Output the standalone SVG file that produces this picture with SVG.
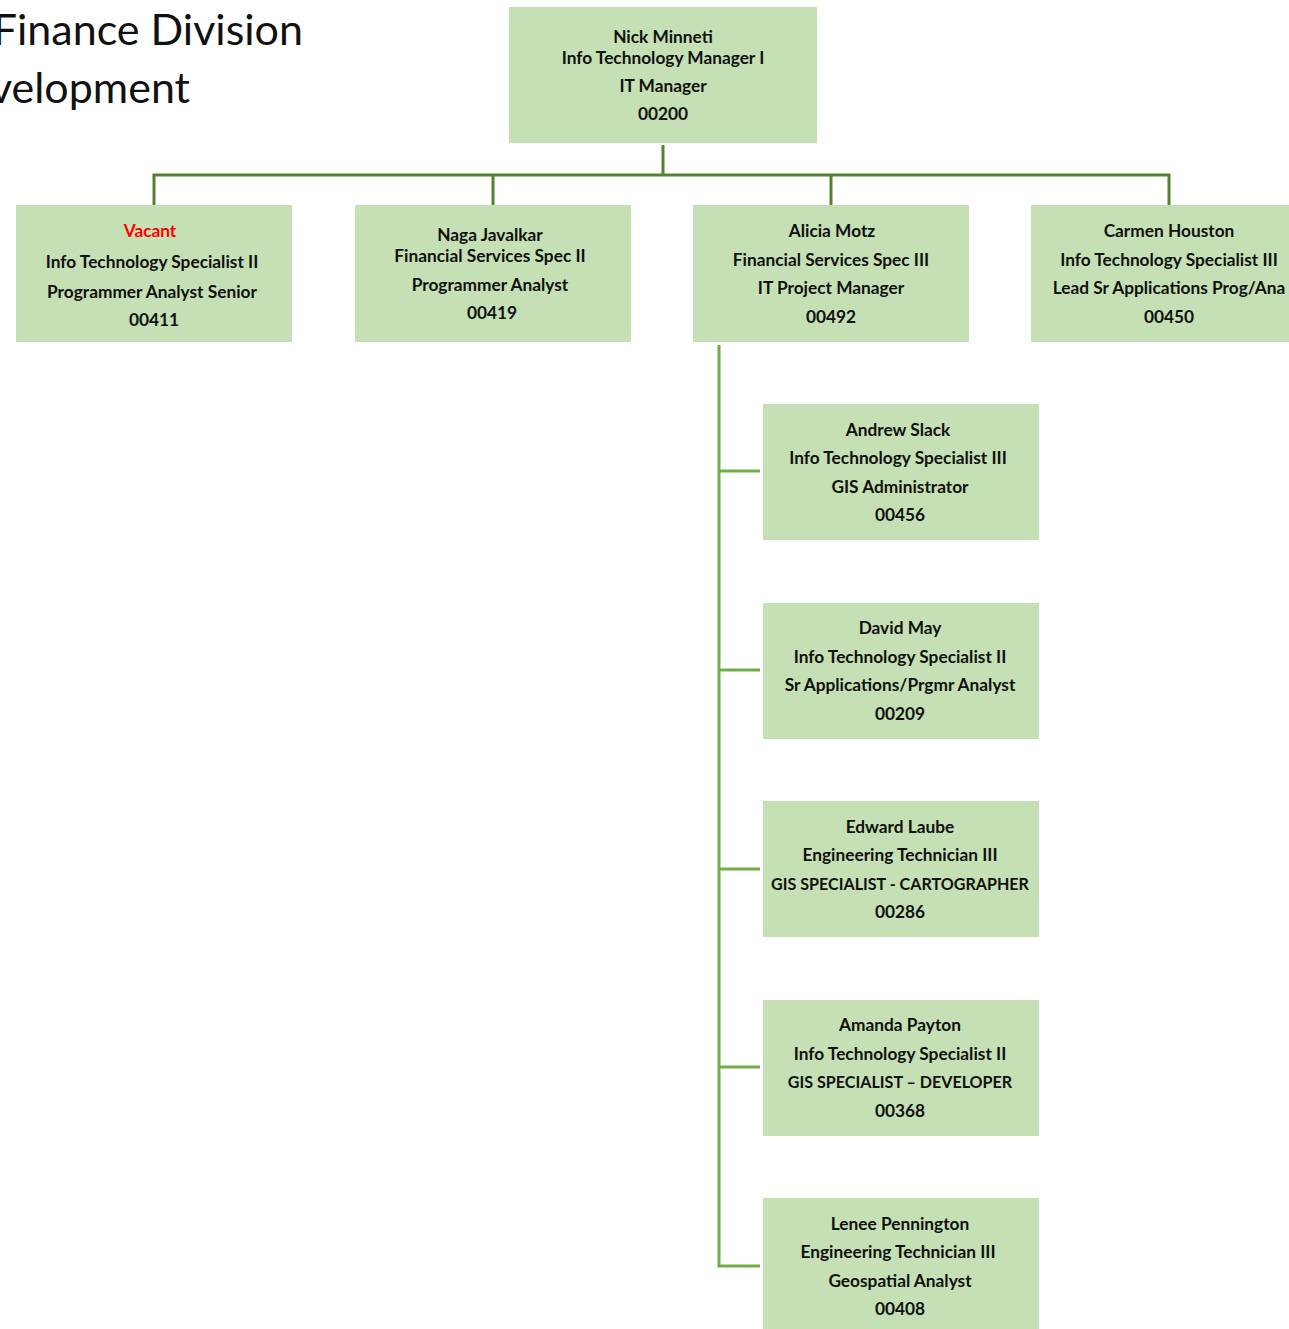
<svg xmlns="http://www.w3.org/2000/svg" width="1289" height="1329" viewBox="0 0 1289 1329">
<style>
.box{fill:#c5e0b4;}
.t{font-family:Lato,"Liberation Sans",sans-serif;font-weight:bold;font-size:17.3px;fill:#111;text-anchor:middle;dominant-baseline:central;}
.caps{font-size:16.1px;}
.red{fill:#ff0000;}
.title{font-family:Lato,"Liberation Sans",sans-serif;font-size:43px;fill:#111;text-anchor:end;}
.c1{stroke:#548235;stroke-width:3;fill:none;}
.c2{stroke:#70ad47;stroke-width:3;fill:none;}
</style>
<rect width="1289" height="1329" fill="#fff"/>
<text class="title" x="303" y="45">Finance Division</text>
<text class="title" x="190" y="103">velopment</text>
<g id="connectors">
<path class="c1" d="M663 145V175M154 205V175H1169V205M493 175V205M831 175V205"/>
<path class="c2" d="M719 345V1266H760M719 471H760M719 670H760M719 869H760M719 1067H760"/>
</g>
<g id="n00200"><rect class="box" x="509" y="7" width="308" height="136"/>
<text class="t" x="663" y="36">Nick Minneti</text><text class="t" x="663" y="57">Info Technology Manager I</text><text class="t" x="663" y="85">IT Manager</text><text class="t" x="663" y="113">00200</text></g>
<g id="n00411"><rect class="box" x="16" y="205" width="276" height="137"/>
<text class="t red" x="150" y="230">Vacant</text><text class="t" x="152" y="261">Info Technology Specialist II</text><text class="t" x="152" y="291">Programmer Analyst Senior</text><text class="t" x="154" y="319">00411</text></g>
<g id="n00419"><rect class="box" x="355" y="205" width="276" height="137"/>
<text class="t" x="490" y="234">Naga Javalkar</text><text class="t" x="490" y="255">Financial Services Spec II</text><text class="t" x="490" y="284">Programmer Analyst</text><text class="t" x="492" y="312">00419</text></g>
<g id="n00492"><rect class="box" x="693" y="205" width="276" height="137"/>
<text class="t" x="832" y="230">Alicia Motz</text><text class="t" x="831" y="259">Financial Services Spec III</text><text class="t" x="831" y="287">IT Project Manager</text><text class="t" x="831" y="316">00492</text></g>
<g id="n00450"><rect class="box" x="1031" y="205" width="258" height="137"/>
<text class="t" x="1169" y="230">Carmen Houston</text><text class="t" x="1169" y="259">Info Technology Specialist III</text><text class="t" x="1169" y="287">Lead Sr Applications Prog/Ana</text><text class="t" x="1169" y="316">00450</text></g>
<g id="n00456"><rect class="box" x="763" y="404" width="276" height="136"/>
<text class="t" x="898" y="429">Andrew Slack</text><text class="t" x="898" y="457">Info Technology Specialist III</text><text class="t" x="900" y="486">GIS Administrator</text><text class="t" x="900" y="514">00456</text></g>
<g id="n00209"><rect class="box" x="763" y="603" width="276" height="136"/>
<text class="t" x="900" y="627">David May</text><text class="t" x="900" y="656">Info Technology Specialist II</text><text class="t" x="900" y="684">Sr Applications/Prgmr Analyst</text><text class="t" x="900" y="713">00209</text></g>
<g id="n00286"><rect class="box" x="763" y="801" width="276" height="136"/>
<text class="t" x="900" y="826">Edward Laube</text><text class="t" x="900" y="854">Engineering Technician III</text><text class="t caps" x="900" y="883">GIS SPECIALIST - CARTOGRAPHER</text><text class="t" x="900" y="911">00286</text></g>
<g id="n00368"><rect class="box" x="763" y="1000" width="276" height="136"/>
<text class="t" x="900" y="1024">Amanda Payton</text><text class="t" x="900" y="1053">Info Technology Specialist II</text><text class="t caps" x="900" y="1081">GIS SPECIALIST – DEVELOPER</text><text class="t" x="900" y="1110">00368</text></g>
<g id="n00408"><rect class="box" x="763" y="1198" width="276" height="131"/>
<text class="t" x="900" y="1223">Lenee Pennington</text><text class="t" x="898" y="1251">Engineering Technician III</text><text class="t" x="900" y="1280">Geospatial Analyst</text><text class="t" x="900" y="1308">00408</text></g>
</svg>
